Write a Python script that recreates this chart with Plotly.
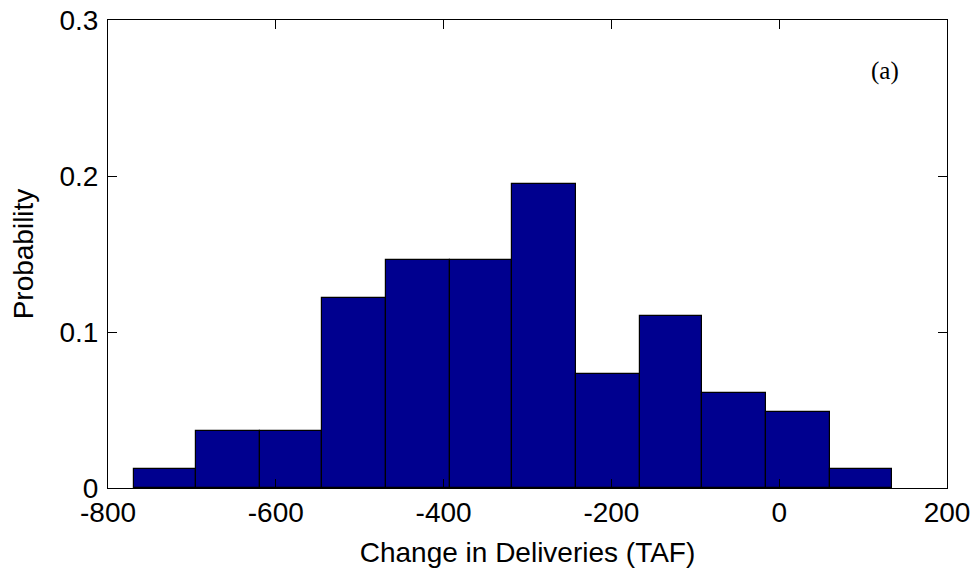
import plotly.graph_objects as go

# Data
bin_edges = [-768.7, -694.8, -618.5, -544.9, -468.3, -392.0, -318.5,
             -241.8, -165.9, -92.0, -15.4, 60.5, 134.4]
probability = [0.0122, 0.0366, 0.0366, 0.122, 0.146, 0.146, 0.195,
               0.0732, 0.110, 0.061, 0.0488, 0.0122]
x_ticks = [-800, -600, -400, -200, 0, 200]
x_tick_labels = ["-800", "-600", "-400", "-200", "0", "200"]
y_ticks = [0, 0.1, 0.2, 0.3]
y_tick_labels = ["0", "0.1", "0.2", "0.3"]

centers = [(a + b) / 2 for a, b in zip(bin_edges[:-1], bin_edges[1:])]
widths = [b - a for a, b in zip(bin_edges[:-1], bin_edges[1:])]

fig = go.Figure()
fig.add_trace(go.Bar(
    x=centers, y=probability, width=widths,
    marker=dict(color="#00008F", line=dict(color="black", width=1.2)),
    showlegend=False,
))

font = dict(family="Liberation Sans, Arial", size=28, color="black")

# page body adds an 8px margin, so the figure is sized to fit the window
fig.update_layout(
    width=972, height=563,
    margin=dict(l=100, r=33, t=12, b=83, autoexpand=False),
    paper_bgcolor="white", plot_bgcolor="white",
    font=font,
    bargap=0,
    annotations=[dict(x=126, y=0.2675, xref="x", yref="y", text="(a)",
                      showarrow=False,
                      font=dict(family="Liberation Serif, Times New Roman",
                                size=25, color="black"))],
)
fig.update_xaxes(
    range=[-800, 200], tickvals=x_ticks, ticktext=x_tick_labels,
    ticks="inside", ticklen=9, tickcolor="black", tickwidth=1,
    showline=True, linecolor="black", linewidth=1, mirror="ticks",
    showgrid=False, zeroline=False, automargin=False,
    title=dict(text="Change in Deliveries (TAF)", font=font, standoff=15),
    tickfont=font, ticklabelstandoff=-1, ticklabeloverflow="allow",
)
fig.update_yaxes(
    range=[0, 0.3], tickvals=y_ticks, ticktext=y_tick_labels,
    ticks="inside", ticklen=9, tickcolor="black", tickwidth=1,
    showline=True, linecolor="black", linewidth=1, mirror="ticks",
    showgrid=False, zeroline=False, automargin=False,
    title=dict(text="Probability", font=font, standoff=19),
    tickfont=font, ticklabelstandoff=3, ticklabeloverflow="allow",
)

fig.write_html("out.html")
